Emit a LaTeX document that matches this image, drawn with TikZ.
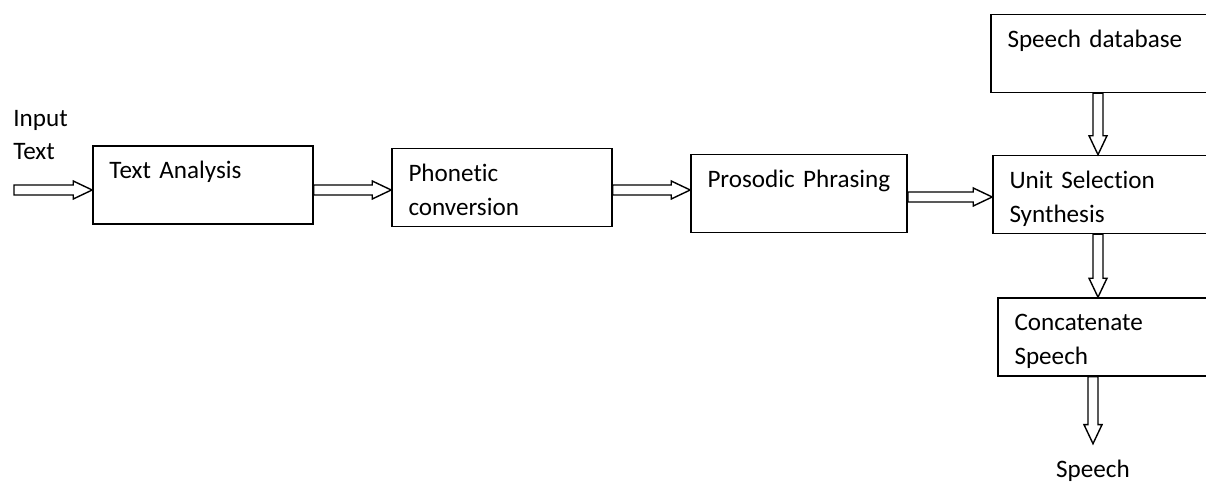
\documentclass[tikz,border=0pt]{standalone}
\usepackage{fontspec}
\setmainfont{Carlito}[Ligatures=NoCommon,WordSpace=0.75]
\usetikzlibrary{calc}

\begin{document}
\begin{tikzpicture}[font=\fontsize{14.3}{19.3}\selectfont]
\tikzset{
% Two styles: text boxes and hollow block arrows
box/.style={draw,line width=0.9pt,minimum width=4.4cm,text width=3.74cm,align=left,
  inner xsep=0.33cm,inner ysep=0pt,text height=0.66cm,text depth=0.9cm},
fat arrow/.style={draw,line width=0.8pt,to path={
  let \p1=($(\tikztotarget)-(\tikztostart)$),\n1={atan2(\y1,\x1)},\n2={veclen(\x1,\y1)} in
  {[shift={(\tikztostart)},rotate=\n1]
  (0,-0.1cm) -- (\n2-0.38cm,-0.1cm) -- (\n2-0.38cm,-0.18cm) -- (\n2,0cm)
  -- (\n2-0.38cm,0.18cm) -- (\n2-0.38cm,0.1cm) -- (0,0.1cm) -- cycle}}}
}
\clip (0,0) rectangle (24.12,9.64);

% The chain of blocks
\node(ta)[box] at (4.06,5.94) {Text Analysis};
\node(pc)[box] at (10.04,5.89) {Phonetic\\conversion};
\node(pp)[box,minimum width=4.32cm,text width=3.66cm] at (15.98,5.77) {Prosodic Phrasing};
\node(sd)[box] at (22.02,8.57) {Speech database};
\node(us)[box] at (22.06,5.75) {Unit Selection\\Synthesis};
\node(cs)[box] at (22.16,2.90) {Concatenate\\Speech};

% input and output
\node(it)[anchor=base west,align=left,inner sep=0pt] at (0.26,6.44) {Input\\Text};
\node(out)[anchor=base,inner ysep=0.33cm] at (21.86,0.08) {Speech};
\coordinate(in) at (0.28,5.84);
\coordinate(col) at (21.96,0);

% arrows
\path[fat arrow] (in) to (in -| ta.west);
\path[fat arrow] (ta.east |- in) to (pc.west |- in);
\path[fat arrow] (pc.east |- in) to (pp.west |- in);
\path[fat arrow] ([yshift=-0.07cm]pp.east) to ([yshift=-0.07cm]pp.east -| us.west);
\path[fat arrow] (sd.south -| col) to (us.north -| col);
\path[fat arrow] (us.south -| col) to (cs.north -| col);
\path[fat arrow] (cs.south -| out) to (out.north);
\end{tikzpicture}
\end{document}
